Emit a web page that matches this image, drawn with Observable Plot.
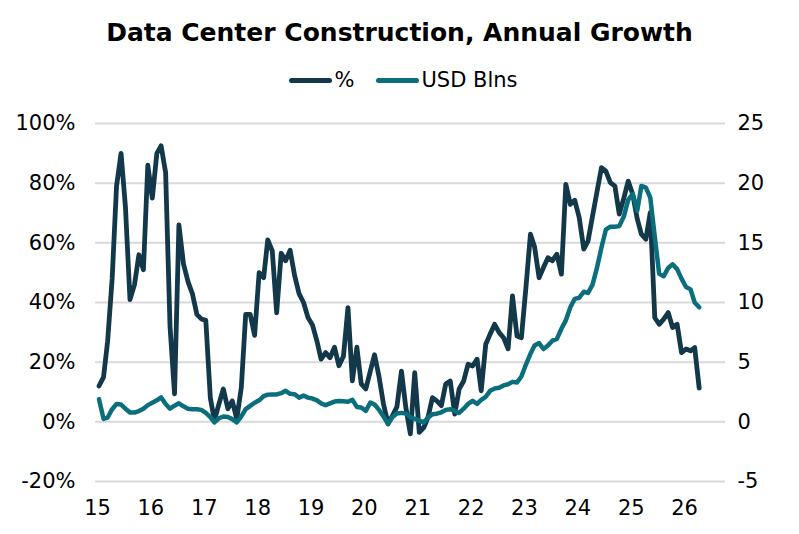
<!DOCTYPE html>
<html>
<head>
<meta charset="utf-8">
<script src="https://cdn.jsdelivr.net/npm/d3@7"></script>
<script src="https://cdn.jsdelivr.net/npm/@observablehq/plot@0.6"></script>
<style>
  html, body { margin: 0; padding: 0; background: #fff; }
  body { position: relative; width: 799px; height: 534px; overflow: hidden; font-family: "DejaVu Sans", Verdana, sans-serif; color: #000; }
  .title { position: absolute; left: 0; top: 20px; width: 799px; text-align: center; font-weight: bold; font-size: 25px; line-height: 25px; }
  .legend { position: absolute; left: 4px; top: 68px; width: 799px; display: flex; justify-content: center; gap: 22px; font-size: 21px; line-height: 24px; }
  .item { display: flex; align-items: center; }
  .swatch { width: 43px; height: 5px; border-radius: 3px; margin-right: 2px; }
  #chart { position: absolute; left: 0; top: 100px; }
</style>
</head>
<body>
<div class="title">Data Center Construction, Annual Growth</div>
<div class="legend" id="legend"></div>
<div id="chart"></div>
<script>
// Annual growth of data center construction spending, monthly, Jan 2015 - Apr 2026
const seriesNames = ["%", "USD Blns"];
const seriesColors = ["#12384a", "#0b6e7c"];

// Year-over-year growth, percent (left axis)
const pctGrowth = [
  12, 15, 27, 48, 79, 90, 72, 41, 46, 56,
  51, 86, 75, 90, 92.5, 83.5, 32, 9.4, 66, 53,
  47, 43, 36, 34.5, 34, 8, 0.5, 6, 11, 4.4,
  7, 1, 11.5, 36, 36, 29, 50, 48.3, 61, 57.3,
  36.5, 56.5, 54, 57.5, 49, 43, 40, 35, 32.5, 27,
  21, 23.2, 21.5, 25, 18.8, 22, 38.3, 13.7, 25, 12.7,
  11, 17, 22.5, 15, 6, -0.5, 2, 5, 17, 4.8,
  -4, 16.5, -3.5, -1.9, 1.4, 8.1, 7, 5.4, 12.7, 13.7,
  2.6, 11, 13.7, 19.3, 18.7, 21, 10.4, 26, 29.4, 32.7,
  30, 28.2, 24.5, 42.2, 28.8, 28.2, 45, 62.9, 58.7, 48.3,
  51.7, 55, 54, 56.2, 49.5, 79.6, 72.9, 74.3, 68.4, 57.9,
  60.6, 69, 77, 85.2, 84, 80.2, 79, 69.6, 75, 80.7,
  76.3, 68, 62.9, 61.2, 70.1, 34.9, 32.7, 34.4, 36.6, 31.6,
  32.7, 23.2, 24.4, 23.8, 24.9, 11.3
];

// Year-over-year change, billions of USD (right axis)
const usdBlns = [
  1.9, 0.25, 0.36, 1.06, 1.5, 1.45, 1.1, 0.78, 0.78, 0.9,
  1.1, 1.4, 1.6, 1.8, 2.05, 1.5, 1.1, 1.35, 1.55, 1.3,
  1.1, 1.06, 1.06, 1.0, 0.75, 0.4, -0.05, 0.3, 0.45, 0.4,
  0.23, -0.05, 0.45, 1.06, 1.34, 1.6, 1.8, 2.15, 2.28, 2.3,
  2.3, 2.4, 2.6, 2.35, 2.32, 2.03, 2.2, 2.03, 1.95, 1.8,
  1.55, 1.4, 1.55, 1.7, 1.75, 1.72, 1.68, 1.85, 1.25, 1.2,
  0.92, 1.62, 1.45, 1.0, 0.45, -0.2, 0.4, 0.7, 0.75, 0.7,
  0.4, 0.25, 0.1, -0.05, 0.35, 0.64, 0.68, 0.8, 1.0, 1.06,
  0.92, 0.75, 1.1, 1.5, 1.76, 1.5, 1.85, 2.1, 2.6, 2.8,
  2.85, 3.05, 3.15, 3.35, 3.3, 3.8, 4.8, 5.7, 6.4, 6.6,
  6.1, 6.4, 6.8, 6.95, 7.8, 8.5, 9.6, 10.3, 10.4, 10.9,
  10.8, 11.5, 12.9, 14.6, 16.1, 16.35, 16.35, 16.4, 17.2, 18.6,
  19.1, 17.7, 19.77, 19.62, 18.8, 15.5, 12.4, 12.2, 12.9, 13.2,
  12.8, 12.0, 11.3, 11.1, 10.0, 9.6
];

// Axis ticks
const pctTicks = [-20, 0, 20, 40, 60, 80, 100];
const usdPerPct = 0.25; // 25 USD Blns on the right axis sits level with 100% on the left
const yearTicks = d3.range(2015, 2027);

const months = d3.utcMonth.range(new Date(Date.UTC(2015, 0, 1)), new Date(Date.UTC(2026, 4, 1)));
const rows = months.map((m, i) => ({
  date: d3.utcDay.offset(m, 10),
  pct: pctGrowth[i],
  usd: usdBlns[i]
}));

// Legend
const legend = document.getElementById("legend");
seriesNames.forEach((name, i) => {
  const item = document.createElement("div");
  item.className = "item";
  const sw = document.createElement("div");
  sw.className = "swatch";
  sw.style.background = seriesColors[i];
  const label = document.createElement("span");
  label.textContent = name;
  item.append(sw, label);
  legend.append(item);
});

const chart = Plot.plot({
  width: 799,
  height: 434,
  marginTop: 23,
  marginBottom: 53,
  marginLeft: 95,
  marginRight: 74,
  style: { fontFamily: "'DejaVu Sans', Verdana, sans-serif", fontSize: "21px", color: "#000", background: "#fff" },
  x: { type: "utc", domain: [new Date(Date.UTC(2014, 11, 18)), new Date(Date.UTC(2026, 9, 8))] },
  y: { domain: [-20, 100] },
  marks: [
    Plot.gridY(pctTicks, { stroke: "#d9d9d9", strokeOpacity: 1, strokeWidth: 2 }),
    Plot.axisY({ ticks: pctTicks, tickFormat: d => d + "%", tickSize: 0, tickPadding: 20, label: null, fontSize: 21 }),
    Plot.axisY({ anchor: "right", ticks: pctTicks, tickFormat: d => d * usdPerPct, tickSize: 0, tickPadding: 12, label: null, fontSize: 21 }),
    Plot.axisX({ ticks: yearTicks.map(y => new Date(Date.UTC(y, 0, 1))), tickFormat: d3.utcFormat("%y"), tickSize: 0, tickPadding: 19, label: null, fontSize: 21 }),
    Plot.lineY(rows, { x: "date", y: "pct", stroke: seriesColors[0], strokeWidth: 4.8, strokeLinejoin: "round", strokeLinecap: "round" }),
    Plot.lineY(rows, { x: "date", y: d => d.usd / usdPerPct, stroke: seriesColors[1], strokeWidth: 4.5, strokeLinejoin: "round", strokeLinecap: "round" })
  ]
});
document.getElementById("chart").append(chart);
</script>
</body>
</html>
